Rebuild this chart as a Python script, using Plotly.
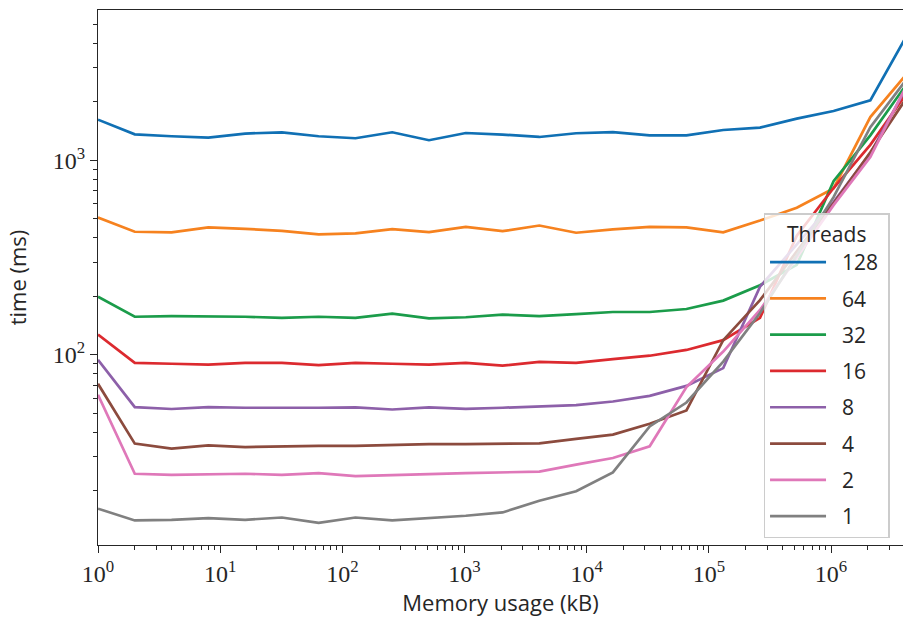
import plotly.graph_objects as go

memory_kb = [2 ** k for k in range(23)]

threads = ["128", "64", "32", "16", "8", "4", "2", "1"]

t128 = [1617, 1359, 1328, 1308, 1371, 1392, 1328, 1297, 1392, 1267, 1380, 1355, 1317,
        1376, 1396, 1343, 1343, 1430, 1471, 1636, 1790, 2032, 4400]
t64 = [508, 429, 426, 452, 444, 434, 416, 421, 443, 427, 455, 432, 462,
       424, 441, 455, 452, 426, 490, 570, 716, 1667, 2790]
t32 = [199, 157, 158, 158, 157, 155, 157, 155, 163, 154, 156, 161, 158,
       162, 166, 166, 172, 190, 228, 290, 780, 1343, 2480]
t16 = [127, 91, 90, 89, 91, 91, 88.5, 91, 90, 89, 91, 88, 92,
       91, 95, 99, 106, 119, 155, 410, 720, 1200, 2230]
t8 = [94.3, 53.9, 52.7, 53.9, 53.5, 53.3, 53.5, 53.7, 52.4, 53.7, 52.8, 53.5, 54.3,
      55.2, 57.6, 61.6, 69.3, 85.5, 224, 370, 609, 1085, 2400]
t4 = [71, 35, 33, 34.3, 33.6, 34, 34.1, 34.1, 34.5, 34.8, 34.8, 34.8, 35.1,
      37, 38.9, 44.3, 51.8, 119, 191, 340, 600, 1100, 2110]
t2 = [62.4, 24.5, 24.2, 24.3, 24.5, 24.2, 24.7, 23.8, 24, 24.4, 24.7, 24.9, 25.1,
      27.3, 29.5, 33.9, 68.3, 104, 170, 316, 588, 1040, 2450]
t1 = [16.2, 14.1, 14.2, 14.5, 14.2, 14.6, 13.7, 14.6, 14.1, 14.5, 14.9, 15.5, 17.8,
      19.9, 24.9, 42.9, 56.9, 92.4, 164, 325, 646, 1480, 2630]

series = [t128, t64, t32, t16, t8, t4, t2, t1]
colors = ["#1070b4", "#f6821f", "#1b9c4a", "#dc2a2f", "#8d60a9", "#8c4b3e", "#df78b9", "#808080"]

x_major = [1, 10, 100, 1000, 10000, 100000, 1000000]
x_major_text = ["10<sup>%d</sup>" % i for i in range(7)]
y_major = [100, 1000]
y_major_text = ["10<sup>2</sup>", "10<sup>3</sup>"]

x_minor = [m * 10 ** e for e in range(0, 7) for m in range(2, 10)]
y_minor = [m * 10 ** e for e in range(1, 4) for m in range(2, 10)]

NBSP = "\u00a0"

fig = go.Figure()
for name, ys, c in zip(threads, series, colors):
    fig.add_trace(go.Scatter(x=memory_kb, y=ys, name=NBSP * 2 + name + NBSP, mode="lines",
                             line=dict(color=c, width=2.7), legendgroup=name))

axis_col = "#262626"
tick_font = dict(family="Liberation Serif", size=24, color=axis_col)
label_font = dict(family="Open Sans", size=22, color=axis_col)

# plot area at x 98..903, y 9.5..545.5 of the 903x624 window
fig.update_layout(
    width=903, height=624,
    margin=dict(l=98, r=0, t=9.5, b=78.5),
    plot_bgcolor="white", paper_bgcolor="white",
    showlegend=True,
    legend=dict(
        x=0.827, y=0.62, xanchor="left", yanchor="top",
        bgcolor="rgba(255,255,255,0.8)", bordercolor="#cccccc", borderwidth=1.3,
        font=dict(family="Open Sans", size=21, color=axis_col),
        title=dict(text="Threads", side="top center",
                   font=dict(family="Open Sans", size=21, color=axis_col)),
        tracegroupgap=6, itemwidth=56,
    ),
    xaxis=dict(
        type="log", range=[0, 6.589], automargin=False,
        tickmode="array", tickvals=x_major, ticktext=x_major_text,
        ticks="outside", ticklen=7, tickwidth=1.3, tickcolor=axis_col,
        showline=True, linecolor=axis_col, linewidth=1.3, mirror=True,
        showgrid=False, zeroline=False,
        minor=dict(tickvals=x_minor, ticks="outside", ticklen=4, tickwidth=1,
                   tickcolor=axis_col, showgrid=False),
        tickfont=tick_font,
        title=dict(text="Memory usage (kB)", font=label_font, standoff=4),
    ),
    yaxis=dict(
        type="log", range=[1.023, 3.772], automargin=False,
        tickmode="array", tickvals=y_major, ticktext=y_major_text,
        ticks="outside", ticklen=7, tickwidth=1.3, tickcolor=axis_col,
        showline=True, linecolor=axis_col, linewidth=1.3, mirror=False,
        showgrid=False, zeroline=False,
        minor=dict(tickvals=y_minor, ticks="outside", ticklen=4, tickwidth=1,
                   tickcolor=axis_col, showgrid=False),
        tickfont=tick_font,
        title=dict(text="time (ms)", font=label_font, standoff=19),
    ),
)

fig.write_html("out.html", config={"displayModeBar": False},
               post_script="document.body.style.margin = '0px';")
